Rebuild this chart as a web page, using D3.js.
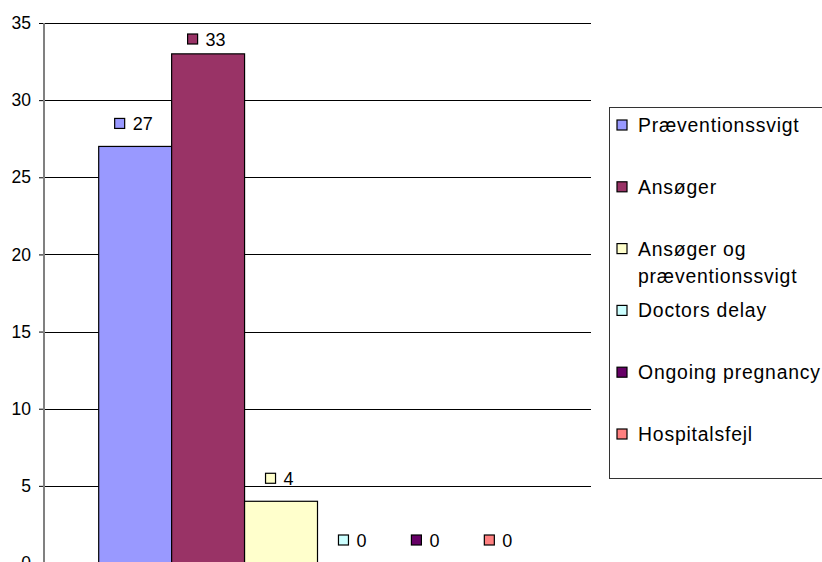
<!DOCTYPE html>
<html>
<head>
<meta charset="utf-8">
<script src="https://cdn.jsdelivr.net/npm/d3@7"></script>
<style>
  html, body { margin: 0; padding: 0; background: #fff; }
  svg { display: block; font-family: "Liberation Sans", Arial, sans-serif; }
</style>
</head>
<body>
<svg id="chart" width="822" height="562"></svg>
<script>
// Series (one bar each) and their values
const seriesNames = [
  "Præventionssvigt",
  "Ansøger",
  "Ansøger og præventionssvigt",
  "Doctors delay",
  "Ongoing pregnancy",
  "Hospitalsfejl"
];
const seriesValues = [27, 33, 4, 0, 0, 0];
const seriesColors = ["#9999FF", "#993366", "#FFFFCC", "#CCFFFF", "#660066", "#FF8080"];
// Legend text, split into lines
const legendLines = [
  ["Præventionssvigt"],
  ["Ansøger"],
  ["Ansøger og", "præventionssvigt"],
  ["Doctors delay"],
  ["Ongoing pregnancy"],
  ["Hospitalsfejl"]
];
const yTicks = [0, 5, 10, 15, 20, 25, 30, 35];

const svg = d3.select("#chart");
const plot = { left: 44, right: 591, top: 23, bottom: 563 };

const y = d3.scaleLinear().domain([0, 35]).range([plot.bottom, plot.top]);
// one category, six series; gap width of 150% on either side
const x = d3.scaleBand()
  .domain(seriesNames)
  .range([plot.left, plot.right])
  .paddingInner(0)
  .paddingOuter(0.75);

// Horizontal gridlines
svg.append("g")
  .selectAll("line")
  .data(yTicks)
  .join("line")
  .attr("x1", plot.left).attr("x2", plot.right)
  .attr("y1", d => Math.round(y(d)) + 0.5)
  .attr("y2", d => Math.round(y(d)) + 0.5)
  .attr("stroke", "#000")
  .attr("stroke-width", 1);

// Bars
svg.append("g")
  .selectAll("rect")
  .data(seriesValues)
  .join("rect")
  .attr("x", (d, i) => x(seriesNames[i]))
  .attr("y", d => y(d))
  .attr("width", x.bandwidth())
  .attr("height", d => y(0) - y(d))
  .attr("fill", (d, i) => seriesColors[i])
  .attr("stroke", "#000")
  .attr("stroke-width", 1.2);

// Value axis
const yAxis = d3.axisLeft(y).tickValues(yTicks).tickSize(5).tickPadding(8);
const ag = svg.append("g")
  .attr("transform", `translate(${plot.left},0)`)
  .call(yAxis);
ag.select(".domain").remove();
ag.selectAll(".tick line").attr("stroke", "#000");
ag.selectAll(".tick text")
  .attr("font-size", 17.5)
  .attr("fill", "#000")
  .attr("font-family", "Liberation Sans, Arial, sans-serif");
svg.append("line")
  .attr("x1", plot.left).attr("x2", plot.left)
  .attr("y1", plot.top).attr("y2", plot.bottom)
  .attr("stroke", "#808080")
  .attr("stroke-width", 2);

// Data labels: legend key + value above each bar
const labels = svg.append("g")
  .selectAll("g")
  .data(seriesValues)
  .join("g")
  .attr("transform", (d, i) => {
    const cx = x(seriesNames[i]) + x.bandwidth() / 2;
    const cy = Math.max(y(d) - 23, plot.top + 16);
    return `translate(${cx},${cy})`;
  });
const keyOffset = d => -10.5 - String(d).length * 5;
labels.append("rect")
  .attr("x", keyOffset)
  .attr("y", -5)
  .attr("width", 10).attr("height", 10)
  .attr("fill", (d, i) => seriesColors[i])
  .attr("stroke", "#000")
  .attr("stroke-width", 1.2);
labels.append("text")
  .attr("x", d => keyOffset(d) + 18)
  .attr("y", 6.5)
  .attr("font-size", 18)
  .attr("fill", "#000")
  .text(d => d);

// Legend
const legendBox = { x: 609, y: 107, w: 230, h: 371 };
const legend = svg.append("g");
legend.append("rect")
  .attr("x", legendBox.x + 0.5).attr("y", legendBox.y + 0.5)
  .attr("width", legendBox.w).attr("height", legendBox.h)
  .attr("fill", "#fff")
  .attr("stroke", "#333")
  .attr("stroke-width", 1);
const step = 61.8;
const items = legend.selectAll("g.item")
  .data(seriesNames)
  .join("g")
  .attr("class", "item")
  .attr("transform", (d, i) => `translate(${legendBox.x + 8},${legendBox.y + 18 + i * step})`);
items.append("rect")
  .attr("x", 0).attr("y", -5)
  .attr("width", 10).attr("height", 10)
  .attr("fill", (d, i) => seriesColors[i])
  .attr("stroke", "#000")
  .attr("stroke-width", 1.2);
items.append("text")
  .attr("x", 21)
  .attr("y", 7)
  .attr("font-size", 19.4)
  .attr("letter-spacing", "0.8px")
  .attr("fill", "#000")
  .selectAll("tspan")
  .data((d, i) => legendLines[i])
  .join("tspan")
  .attr("x", 21)
  .attr("dy", (d, j) => j === 0 ? 0 : 27)
  .text(d => d);
</script>
</body>
</html>
